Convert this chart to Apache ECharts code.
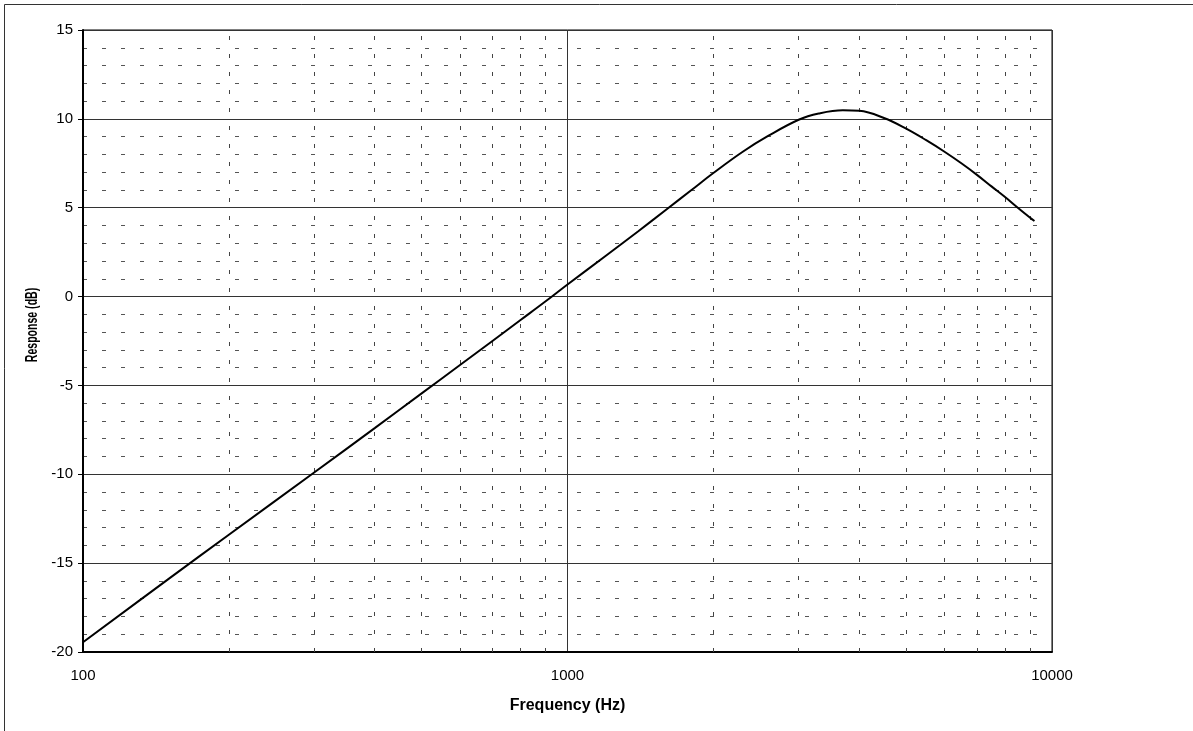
<!DOCTYPE html>
<html>
<head>
<meta charset="utf-8">
<script src="https://cdn.jsdelivr.net/npm/echarts@6/dist/echarts.min.js"></script>
<style>
  html, body { margin: 0; padding: 0; background: #fff; }
  #chart { width: 1193px; height: 731px; }
</style>
</head>
<body>
<div id="chart"></div>
<script>
// frequency (Hz) and response (dB)
var freqs = [100, 150, 200, 300, 400, 500, 600, 700, 800, 900, 1000, 1200, 1400, 1600, 1800, 2000,
  2300, 2600, 3000, 3300, 3700, 4000, 4500, 5000, 5500, 6000, 6500, 7000, 7500, 8000, 8500, 9000, 9200];
var response = [-19.45, -15.9, -13.4, -9.9, -7.4, -5.45, -3.85, -2.5, -1.32, -0.28, 0.68, 2.3, 3.68, 4.9, 5.98, 6.95,
  8.15, 9.05, 9.95, 10.3, 10.48, 10.45, 10.05, 9.45, 8.8, 8.15, 7.5, 6.85, 6.2, 5.6, 5.0, 4.45, 4.25];
// dashed minor grid lines on the log axis
var minorFreqs = [200, 300, 400, 500, 600, 700, 800, 900, 2000, 3000, 4000, 5000, 6000, 7000, 8000, 9000];
var yTicks = { min: -20, max: 15, step: 5 };

var chart = echarts.init(document.getElementById('chart'));
var font = 'Liberation Sans, Arial, sans-serif';

var curve = freqs.map(function (f, i) { return [f, response[i]]; });

var option = {
  backgroundColor: '#fff',
  animation: false,
  grid: {
    left: 83, right: 141, top: 30, bottom: 79,
    show: true, borderColor: '#000', borderWidth: 1
  },
  graphic: [
    {
      // outer chart frame (runs off the right and bottom of the window)
      type: 'rect', silent: true,
      shape: { x: 4.5, y: 4.5, width: 1400, height: 1000 },
      style: { fill: null, stroke: '#333', lineWidth: 1 }
    },
    {
      type: 'text', silent: true,
      x: 32, y: 325, rotation: Math.PI / 2, scaleX: 0.62,
      style: {
        text: 'Response (dB)', font: 'bold 17px ' + font, fill: '#000',
        align: 'center', verticalAlign: 'middle'
      }
    }
  ],
  xAxis: {
    type: 'log', logBase: 10, min: 100, max: 10000,
    name: 'Frequency (Hz)', nameLocation: 'middle', nameGap: 46,
    nameTextStyle: { fontFamily: font, fontWeight: 'bold', fontSize: 16, color: '#000' },
    axisLine: { onZero: false, lineStyle: { color: '#000', width: 2 } },
    axisTick: { show: false },
    axisLabel: {
      margin: 16, fontFamily: font, fontSize: 15, color: '#000',
      formatter: function (v) { return String(Math.round(v)); }
    },
    splitLine: { show: true, lineStyle: { color: '#333', width: 1 } }
  },
  yAxis: {
    type: 'value', min: yTicks.min, max: yTicks.max, interval: yTicks.step,
    axisLine: { show: true, onZero: false, lineStyle: { color: '#000', width: 2 } },
    axisTick: { show: true, length: 5, lineStyle: { color: '#000' } },
    axisLabel: { margin: 10, fontFamily: font, fontSize: 15, color: '#000' },
    splitLine: { show: true, lineStyle: { color: '#333', width: 1 } },
    minorTick: { show: false, splitNumber: 5 },
    minorSplitLine: { show: true, lineStyle: { color: '#555', width: 1, type: [4, 15] } }
  },
  series: [
    {
      type: 'line', data: [], z: 1, silent: true,
      markLine: {
        silent: true, symbol: 'none', label: { show: false },
        lineStyle: { color: '#444', width: 1, type: [4, 14] },
        data: minorFreqs.map(function (f) { return { xAxis: f }; })
      }
    },
    {
      name: 'Response', type: 'line', data: curve, z: 5,
      smooth: 0.4, showSymbol: false,
      lineStyle: { color: '#000', width: 2 }
    }
  ]
};
chart.setOption(option);
</script>
</body>
</html>
